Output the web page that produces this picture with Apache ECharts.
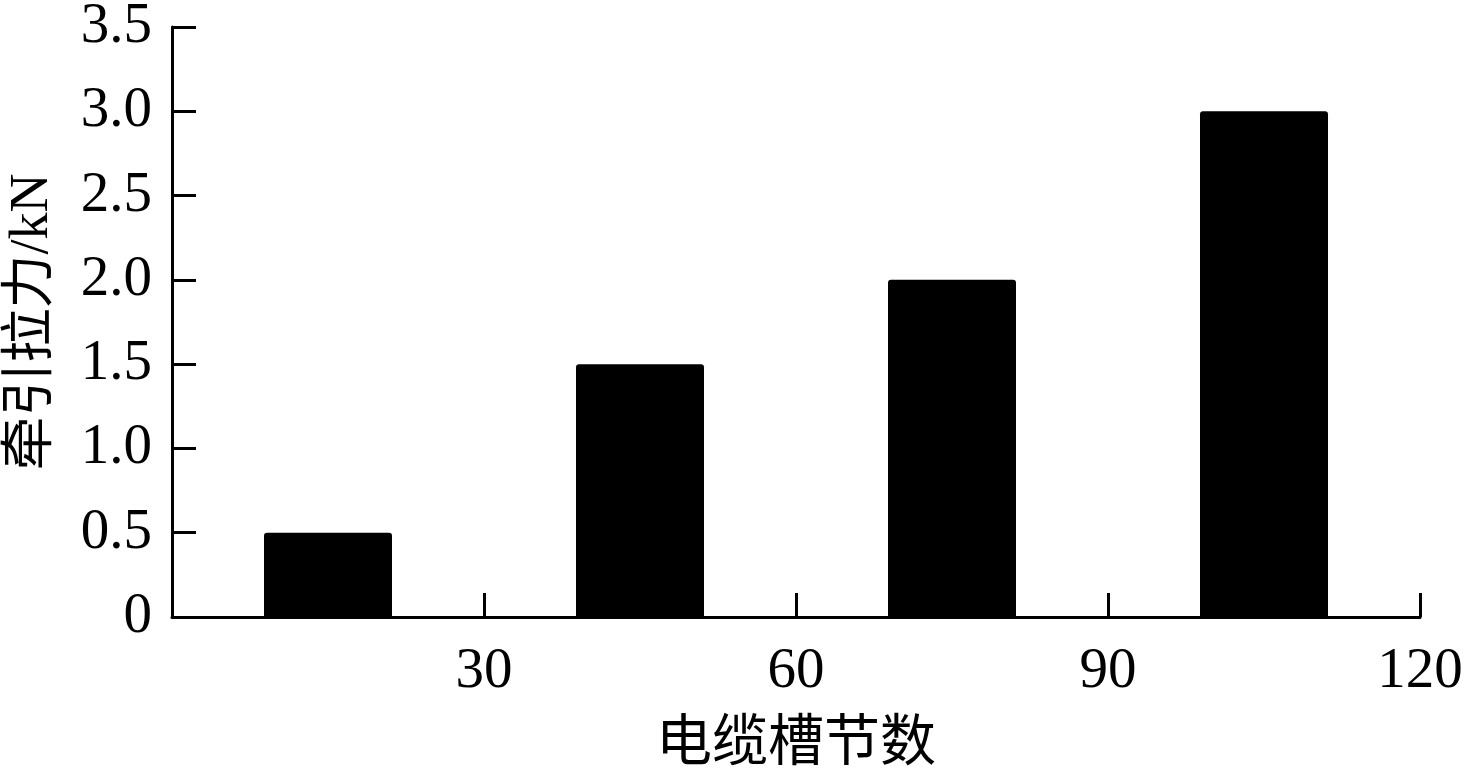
<!DOCTYPE html>
<html>
<head>
<meta charset="utf-8">
<script src="https://cdn.jsdelivr.net/npm/echarts@6/dist/echarts.min.js"></script>
<style>
html,body{margin:0;padding:0;background:#fff;}
#chart{width:1466px;height:772px;}
</style>
</head>
<body>
<div id="chart"></div>
<script>
// Data
const sectionCounts = [15, 45, 75, 105];      // x positions (电缆槽节数)
const pullForce = [0.5, 1.5, 2.0, 3.0];       // 牵引拉力 / kN
const xTicks = [30, 60, 90, 120];
const yTickLabels = ['0', '0.5', '1.0', '1.5', '2.0', '2.5', '3.0', '3.5'];
const xName = '电缆槽节数';
const yName = '牵引拉力/kN';

const FONT = '"Liberation Serif", "Times New Roman", "Noto Sans CJK SC", serif';
const chart = echarts.init(document.getElementById('chart'));
const axisLineStyle = { color: '#000', width: 3 };

chart.setOption({
  animation: false,
  backgroundColor: '#fff',
  grid: { left: 172, right: 46, top: 27, bottom: 155, containLabel: false, outerBoundsMode: 'none' },
  xAxis: {
    type: 'value',
    min: 0, max: 120, interval: 30,
    axisLine: { show: true, lineStyle: axisLineStyle },
    axisTick: { show: true, inside: true, length: 24, lineStyle: axisLineStyle },
    splitLine: { show: false },
    axisLabel: {
      color: '#000', fontFamily: FONT, fontSize: 57, margin: 27,
      formatter: v => (xTicks.indexOf(v) >= 0 ? String(v) : '')
    },
    name: xName, nameLocation: 'middle', nameGap: 100,
    nameTextStyle: { color: '#000', fontFamily: FONT, fontSize: 56 }
  },
  yAxis: {
    type: 'value',
    min: 0, max: 3.5, interval: 0.5,
    axisLine: { show: true, lineStyle: axisLineStyle },
    axisTick: { show: true, inside: true, length: 24, lineStyle: axisLineStyle },
    splitLine: { show: false },
    axisLabel: {
      color: '#000', fontFamily: FONT, fontSize: 57, margin: 20,
      formatter: v => yTickLabels[Math.round(v / 0.5)]
    },
    name: yName, nameLocation: 'middle', nameGap: 112,
    nameTextStyle: { color: '#000', fontFamily: FONT, fontSize: 54 }
  },
  series: [{
    type: 'bar',
    data: sectionCounts.map((x, i) => [x, pullForce[i]]),
    barWidth: 128,
    itemStyle: { color: '#000', borderRadius: [3, 3, 0, 0] }
  }]
});
</script>
</body>
</html>
